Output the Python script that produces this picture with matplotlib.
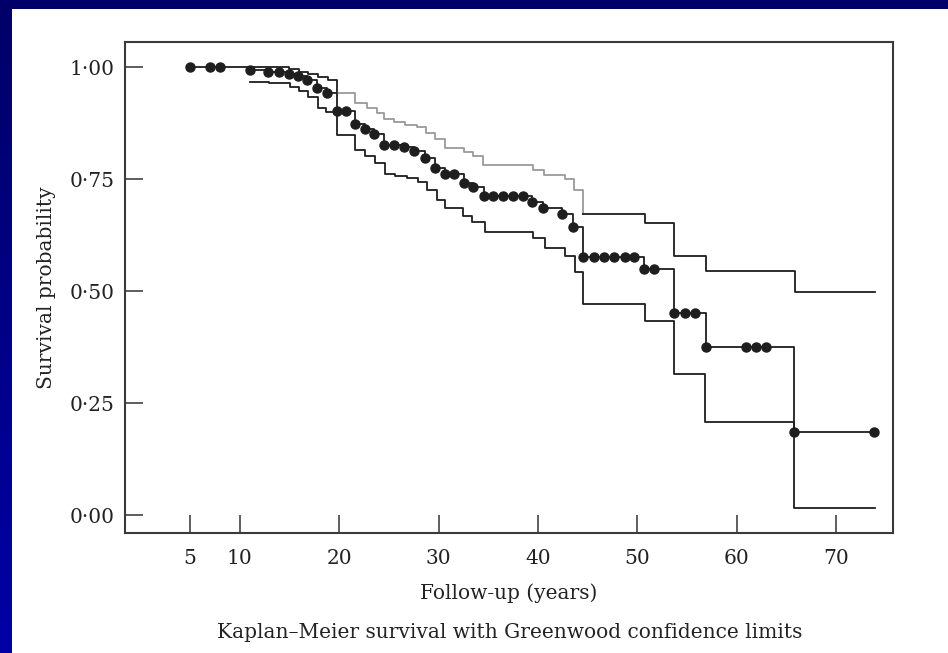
import numpy as np
import matplotlib
matplotlib.use('Agg')
import matplotlib.pyplot as plt
from matplotlib.patches import Rectangle
from matplotlib.colors import LinearSegmentedColormap

# Kaplan-Meier estimate: time of each step and survival after it
km_time = [5, 11.0, 12.8, 14.9, 15.8, 16.8, 17.8, 18.8, 19.8, 21.6, 22.6, 23.5,
           24.5, 26.5, 27.5, 28.6, 29.6, 30.6, 32.5, 33.5, 34.6, 39.4, 40.5,
           42.4, 43.5, 44.5, 50.7, 53.7, 56.9, 65.8, 73.8]
km_surv = [1.000, 0.995, 0.990, 0.986, 0.980, 0.972, 0.953, 0.942, 0.902, 0.874,
           0.862, 0.850, 0.827, 0.821, 0.814, 0.797, 0.776, 0.761, 0.742, 0.732,
           0.713, 0.700, 0.685, 0.672, 0.643, 0.577, 0.550, 0.451, 0.376, 0.187,
           0.187]

# observation times marked with a dot on the curve
dot_time = [5, 7, 8, 11.0, 12.8, 13.9, 14.9, 15.8, 16.8, 17.8, 18.8, 19.8, 20.7,
            21.6, 22.6, 23.5, 24.5, 25.5, 26.5, 27.5, 28.6, 29.6, 30.6, 31.5,
            32.5, 33.5, 34.6, 35.5, 36.5, 37.5, 38.5, 39.4, 40.5, 42.4, 43.5,
            44.5, 45.6, 46.6, 47.6, 48.7, 49.7, 50.7, 51.7, 53.7, 54.8, 55.8,
            56.9, 60.9, 61.9, 62.9, 65.8, 73.8]

# Greenwood confidence limits
up_time = [11.0, 14.9, 15.9, 16.9, 17.9, 18.9, 19.8, 21.6, 22.8, 23.8, 24.5,
           25.5, 26.6, 27.8, 28.7, 29.6, 30.6, 32.5, 33.5, 34.5, 39.5, 40.6,
           42.7, 43.6, 44.5, 50.8, 53.7, 56.9, 65.9, 73.9]
up_surv = [1.000, 0.996, 0.990, 0.984, 0.978, 0.972, 0.942, 0.920, 0.908, 0.898,
           0.885, 0.877, 0.871, 0.866, 0.853, 0.840, 0.820, 0.812, 0.803, 0.781,
           0.770, 0.760, 0.750, 0.725, 0.672, 0.652, 0.578, 0.545, 0.499, 0.499]

lo_time = [11.0, 12.9, 15.0, 15.9, 16.9, 17.9, 18.7, 19.8, 21.6, 22.6, 23.6,
           24.6, 25.6, 26.8, 27.9, 28.8, 29.8, 30.6, 32.4, 33.4, 34.7, 39.5,
           40.7, 42.7, 43.7, 44.5, 50.8, 53.7, 56.8, 65.8, 73.9]
lo_surv = [0.968, 0.964, 0.957, 0.946, 0.934, 0.908, 0.901, 0.849, 0.815, 0.802,
           0.786, 0.761, 0.757, 0.752, 0.745, 0.725, 0.704, 0.685, 0.667, 0.655,
           0.632, 0.618, 0.597, 0.579, 0.544, 0.472, 0.434, 0.315, 0.208, 0.016,
           0.016]

x_ticks = [5, 10, 20, 30, 40, 50, 60, 70]
y_ticks = [0.0, 0.25, 0.5, 0.75, 1.0]
y_tick_labels = ['0\u00b700', '0\u00b725', '0\u00b750', '0\u00b775', '1\u00b700']

# upper limit printed lighter over this stretch
grey_span = (19.8, 44.5)

plt.rcParams['font.family'] = ['DejaVu Serif']
dark = '#1e1e1e'
grey = '#9a9a9a'

fig = plt.figure(figsize=(9.48, 6.53), dpi=100)

# blue slide background with white panel
bg = fig.add_axes([0, 0, 1, 1], zorder=-2)
blues = LinearSegmentedColormap.from_list('slide', ['#000068', '#0000a6'])
bg.imshow(np.linspace(0, 1, 256).reshape(-1, 1), aspect='auto', cmap=blues,
          extent=(0, 1, 0, 1), origin='upper')
bg.set_xlim(0, 1)
bg.set_ylim(0, 1)
bg.axis('off')
fig.patches.append(Rectangle((12 / 948, 0), 1, 1 - 9 / 653, transform=fig.transFigure,
                             facecolor='white', edgecolor='none', zorder=-1))

ax = fig.add_axes([0.1315, 0.1833, 0.8108, 0.7528])

# confidence limits
i0 = up_time.index(grey_span[0])
i1 = up_time.index(grey_span[1])
ax.step(up_time[:i0 + 1], up_surv[:i0 + 1], where='post', color=dark, lw=1.3)
ax.step(up_time[i0:i1 + 1], up_surv[i0:i1 + 1], where='post', color=grey, lw=1.3)
ax.step(up_time[i1:], up_surv[i1:], where='post', color=dark, lw=1.3)
ax.step(lo_time, lo_surv, where='post', color=dark, lw=1.3)

# survival curve and dots
ax.step(km_time, km_surv, where='post', color=dark, lw=1.3)
idx = np.searchsorted(km_time, dot_time, side='right') - 1
dot_surv = np.array(km_surv)[idx]
ax.plot(dot_time, dot_surv, 'o', color=dark, ms=6.5, mec=dark)

ax.set_xlim(-1.59, 75.74)
ax.set_ylim(-0.040, 1.057)
ax.set_xticks(x_ticks)
ax.set_xticklabels([str(t) for t in x_ticks])
ax.set_yticks(y_ticks)
ax.set_yticklabels(y_tick_labels)
ax.tick_params(direction='in', length=13, width=1.1, color='#333333',
               labelsize=14.5, labelcolor='#222222')
ax.tick_params(axis='x', pad=11)
ax.tick_params(axis='y', pad=7)
for sp in ax.spines.values():
    sp.set_color('#3a3a3a')
    sp.set_linewidth(1.5)

ax.set_xlabel('Follow-up (years)', fontsize=14.5, color='#222222', labelpad=11)
ax.set_ylabel('Survival probability', fontsize=14.5, color='#222222', labelpad=10)
fig.text(0.538, 1 - 633 / 653, 'Kaplan\u2013Meier survival with Greenwood confidence limits',
         ha='center', va='center', fontsize=14.5, color='#222222')

fig.savefig('out.png', dpi=100)
